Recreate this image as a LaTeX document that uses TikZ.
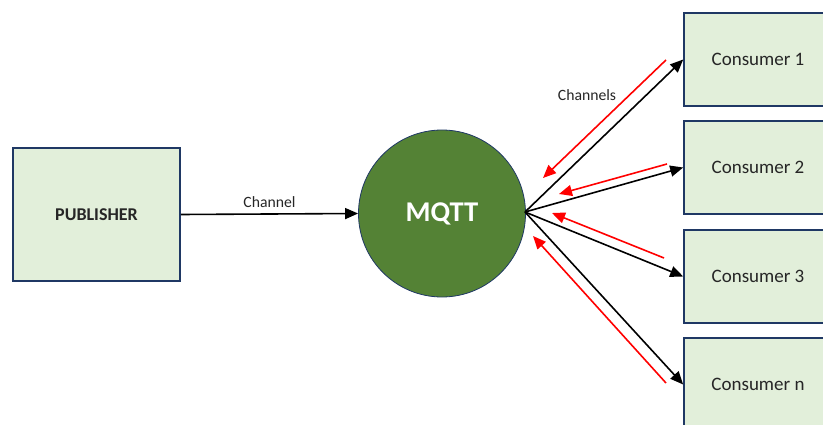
\documentclass[tikz,border=0pt]{standalone}
\usepackage{fontspec}
\setmainfont{Carlito}
\usetikzlibrary{arrows.meta}
\definecolor{boxfill}{HTML}{E2EFDA}
\definecolor{boxline}{HTML}{1F3864}
\definecolor{hubfill}{HTML}{548235}
\definecolor{txt}{HTML}{262626}
\tikzset{
  roleBox/.style={draw=boxline, line width=1.6pt, fill=boxfill, rectangle,
    inner sep=0pt, minimum width=148pt, minimum height=93pt, text=txt,
    font=\fontsize{19}{22}\selectfont},
  flow/.style={line width=1.6pt, -{Triangle[length=13pt,width=11pt]}},
  back/.style={flow, red},
  lbl/.style={text=txt, font=\fontsize{15.7}{18}\selectfont}
}
\begin{document}
\begin{tikzpicture}[x=1pt,y=-1pt]
  \useasboundingbox (0,0) rectangle (823,425);
  \clip (0,0) rectangle (823,425);
  \fill[white] (0,0) rectangle (823,425);

  % publisher and broker
  \node[roleBox, minimum width=167pt, minimum height=133pt,
        font=\fontsize{18}{21}\selectfont\bfseries] (pub) at (96.5,214.5) {PUBLISHER};
  \node[circle, draw=boxline, line width=0.8pt, fill=hubfill, minimum size=167pt,
        inner sep=0pt, text=white, font=\fontsize{28.6}{32}\selectfont\bfseries]
        (mqtt) at (442,213.5) {MQTT};

  % consumers
  \node[roleBox] (c1) at (758,59.5) {Consumer 1};
  \node[roleBox] (c2) at (758,167.5) {Consumer 2};
  \node[roleBox] (c3) at (758,276.5) {Consumer 3};
  \node[roleBox] (cn) at (758,384.5) {Consumer n};

  % publisher channel
  \draw[flow] (pub.east) -- (mqtt.west) node[lbl, midway, above=2pt] {Channel};

  % broker to consumers
  \coordinate (hub) at (525,212);
  \draw[flow] (hub) -- (c1.west);
  \draw[flow] (hub) -- (c2.west);
  \draw[flow] (hub) -- (c3.west);
  \draw[flow] (hub) -- (cn.west);
  \node[lbl] (chs) at (587,95) {Channels};

  % replies back to the broker
  \coordinate (r1a) at (666,60);  \coordinate (r1b) at (543,178);
  \coordinate (r2a) at (667,164); \coordinate (r2b) at (559,194);
  \coordinate (r3a) at (664,258); \coordinate (r3b) at (552,213);
  \coordinate (r4a) at (666,383); \coordinate (r4b) at (533,236);
  \draw[back] (r1a) -- (r1b);
  \draw[back] (r2a) -- (r2b);
  \draw[back] (r3a) -- (r3b);
  \draw[back] (r4a) -- (r4b);
\end{tikzpicture}
\end{document}
